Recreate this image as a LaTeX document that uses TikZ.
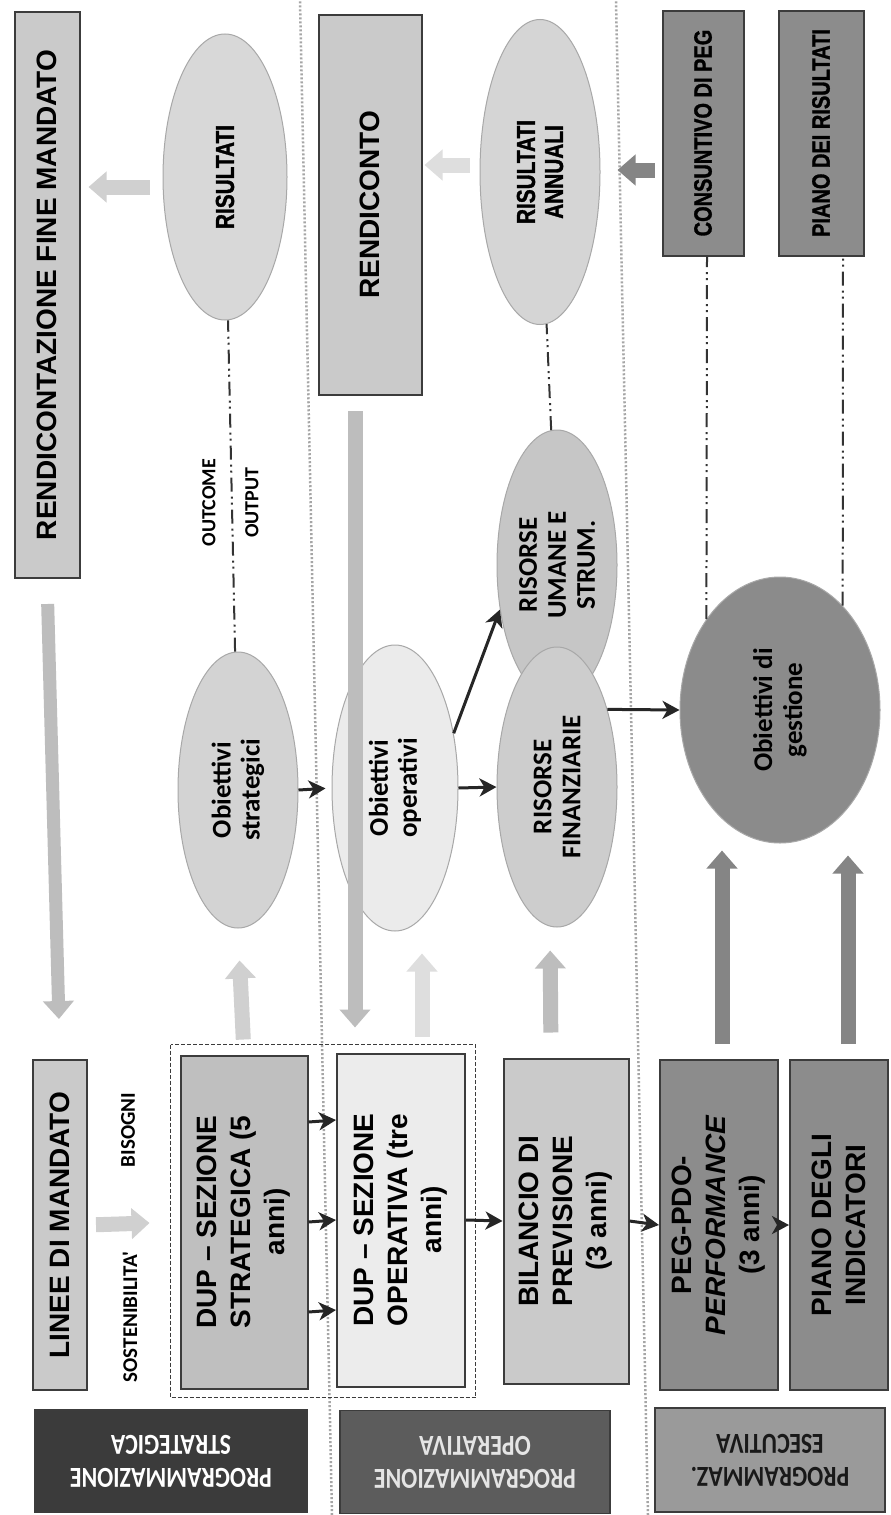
\documentclass[tikz,border=0pt]{standalone}
\usepackage{fontspec}
\setmainfont{Liberation Sans}
\newfontfamily\calfont{Carlito}
\newfontfamily\narrowbold[FakeStretch=0.8,FakeBold=1.2]{Liberation Sans Bold}
\newfontfamily\labfont[FakeStretch=0.82]{Carlito Bold}
\usetikzlibrary{arrows.meta,shapes.geometric}

\definecolor{boxline}{HTML}{3C3C3C}
\definecolor{boxgray}{HTML}{CACACA}
\definecolor{dupDark}{HTML}{BFBFBF}
\definecolor{dupLight}{HTML}{ECECEC}
\definecolor{darkbox}{HTML}{8C8C8C}
\definecolor{labStrat}{HTML}{3B3B3B}
\definecolor{labOper}{HTML}{5C5C5C}
\definecolor{labEsec}{HTML}{9A9A9A}
\definecolor{ovalline}{HTML}{A8A8A8}
\definecolor{ovStrat}{HTML}{D3D3D3}
\definecolor{ovRis}{HTML}{D8D8D8}
\definecolor{ovOper}{HTML}{EBEBEB}
\definecolor{ovFin}{HTML}{CDCDCD}
\definecolor{ovUmane}{HTML}{C6C6C6}
\definecolor{ovAnn}{HTML}{D5D5D5}
\definecolor{ovGest}{HTML}{8B8B8B}
\definecolor{fatLight}{HTML}{D0D0D0}
\definecolor{fatMid}{HTML}{BDBDBD}
\definecolor{fatDark}{HTML}{858585}

\tikzset{
  plainbox/.style={draw=boxline, line width=2pt, fill=boxgray, align=center, inner sep=2pt,
    font=\fontsize{28}{34}\selectfont\bfseries},
  greybox/.style={plainbox, fill=darkbox},
  rowlabel/.style={draw=boxline, line width=1.5pt, rotate=90, align=center, inner sep=0pt,
    font=\labfont\fontsize{29}{33}\selectfont},
  oval/.style={ellipse, draw=ovalline, line width=1pt, inner sep=0pt, align=center,
    font=\calfont\fontsize{27}{29}\selectfont\bfseries},
  blk/.style={draw=black!85, line width=3pt, -{Stealth[length=17pt,width=18pt,inset=5pt]}},
  fat/.style={line width=15pt, -{Triangle[length=18pt,width=30pt]}},
  ddot/.style={draw=black!80, line width=2pt,
    dash pattern=on 14pt off 5pt on 2pt off 4pt on 2pt off 5pt},
  sepline/.style={draw=black!35, line width=2.5pt, dash pattern=on 2pt off 2pt},
}

\begin{document}
\begin{tikzpicture}[x=1pt,y=1pt]
  \useasboundingbox (0,0) rectangle (891,-1515);
  \fill[white] (0,0) rectangle (891,-1515);

  \begin{scope}[shift={(891,-1515)}, rotate=90, transform shape]

    % row separators
    \draw[sepline] (0,559) -- (1515,591);
    \draw[sepline] (0,243) -- (1515,275);

    % row labels
    \node[rowlabel, fill=labStrat, text=white, minimum width=272pt, minimum height=102pt] (labS) at (54,720) {PROGRAMMAZIONE\\STRATEGICA};
    \node[rowlabel, fill=labOper, text=black!10, minimum width=270pt, minimum height=103pt] (labO) at (53,416) {PROGRAMMAZIONE\\OPERATIVA};
    \node[rowlabel, fill=labEsec, text=black!90, minimum width=230pt, minimum height=104pt] (labE) at (55,121) {PROGRAMMAZ.\\ESECUTIVA};

    % boxes
    \node[plainbox, minimum width=330pt, minimum height=54pt] (linee) at (290,831) {LINEE DI MANDATO};
    \node[plainbox, minimum width=566pt, minimum height=65pt] (rendFM) at (1220,844) {RENDICONTAZIONE FINE MANDATO};
    \node[plainbox, fill=dupDark, minimum width=333pt, minimum height=127pt] (dupS) at (293,647) {DUP -- SEZIONE\\STRATEGICA (5\\anni)};
    \node[plainbox, fill=dupLight, minimum width=333pt, minimum height=128pt] (dupO) at (295,490) {DUP -- SEZIONE\\OPERATIVA (tre\\anni)};
    \node[draw=boxline, line width=1.5pt, dash pattern=on 4pt off 2pt, minimum width=353pt, minimum height=305pt] (dupFrame) at (294,568) {};
    \node[plainbox, minimum width=325pt, minimum height=125pt] (bil) at (294,325) {BILANCIO DI\\PREVISIONE\\(3 anni)};
    \node[greybox, minimum width=330pt, minimum height=118pt] (peg) at (290,172) {PEG-PDO-\\\textit{PERFORMANCE}\\(3 anni)};
    \node[greybox, minimum width=330pt, minimum height=98pt] (pind) at (290,52) {PIANO DEGLI\\INDICATORI};
    \node[plainbox, minimum width=380pt, minimum height=103pt] (rend) at (1310,521) {RENDICONTO};
    \node[greybox, font=\narrowbold\fontsize{25}{30}\selectfont, minimum width=245pt, minimum height=81pt] (cons) at (1382,188) {CONSUNTIVO DI PEG};
    \node[greybox, font=\narrowbold\fontsize{25}{30}\selectfont, minimum width=245pt, minimum height=85pt] (pris) at (1382,70) {PIANO DEI RISULTATI};

    % ellipses
    \node[oval, fill=ovStrat, minimum width=276pt, minimum height=120pt] (obS) at (725,653) {Obiettivi\\strategici};
    \node[oval, fill=ovRis, font=\narrowbold\fontsize{26}{28}\selectfont, minimum width=286pt, minimum height=124pt] (ris) at (1338,666) {RISULTATI};
    \node[oval, fill=ovOper, minimum width=286pt, minimum height=126pt] (obO) at (727,496) {Obiettivi\\operativi};
    \node[oval, fill=ovUmane, minimum width=270pt, minimum height=120pt] (risU) at (950,334) {RISORSE\\UMANE E\\STRUM.};
    \node[oval, fill=ovFin, minimum width=280pt, minimum height=120pt] (risF) at (728,334) {RISORSE\\FINANZIARIE};
    \node[oval, fill=ovAnn, font=\narrowbold\fontsize{26}{28}\selectfont, minimum width=305pt, minimum height=120pt] (risA) at (1343,351) {RISULTATI\\ANNUALI};
    \node[oval, fill=ovGest, font=\calfont\fontsize{27}{30}\selectfont\bfseries, minimum width=266pt, minimum height=200pt] (obG) at (805,111) {Obiettivi di\\gestione};

    % free texts
    \node[font=\calfont\fontsize{21}{24}\selectfont\bfseries] (sost) at (198,761) {SOSTENIBILITA'};
    \node[font=\calfont\fontsize{21}{24}\selectfont\bfseries] (bis) at (385,763) {BISOGNI};

    % block arrows
    \draw[fat, draw=fatLight, shorten <=8pt, shorten >=30pt] (linee.south) -- (dupS.north);
    \draw[fat, draw=fatMid, line width=13pt, shorten <=25pt, shorten >=40pt] (rendFM.west) -- (linee.east);
    \draw[fat, draw=fatLight, shorten <=15pt, shorten >=32pt] (dupS.east) -- (obS.west);
    \draw[fat, draw=fatLight!70!white, shorten <=16pt, shorten >=22pt] ([yshift=-21pt]dupO.east) -- ([yshift=-27pt]obO.west);
    \draw[fat, draw=fatMid, shorten <=15pt, shorten >=25pt] ([yshift=15pt]rend.west) -- ([yshift=46pt]dupO.east);
    \draw[fat, draw=fatMid, shorten <=25pt, shorten >=23pt] ([yshift=15pt]bil.east) -- ([yshift=7pt]risF.west);
    \draw[fat, draw=fatLight, shorten <=13pt, shorten >=8pt] ([xshift=-10pt]ris.north) -- ([xshift=108pt]rendFM.south);
    \draw[fat, draw=fatLight!70!white, shorten <=10pt, shorten >=2pt] ([xshift=7pt]risA.north) -- ([xshift=40pt]rend.south);
    \draw[fat, draw=fatDark, shorten <=7pt, shorten >=17pt] ([xshift=-37pt]cons.north) -- ([xshift=2pt]risA.south);
    \draw[fat, draw=fatDark, shorten <=15pt, shorten >=7pt] ([yshift=-3pt]peg.east) -- ([yshift=58pt]obG.west);
    \draw[fat, draw=fatDark, shorten <=15pt, shorten >=12pt] ([yshift=-9pt]pind.east) -- ([yshift=-68pt]obG.west);

    % black arrows
    \foreach \d in {-90pt,0pt,100pt}
      \draw[blk] ([xshift=\d]dupS.south) -- ([xshift=\d]dupO.north);
    \draw[blk] (dupO.south) -- (bil.north);
    \draw[blk] (bil.south) -- (peg.north);
    \draw[blk] (peg.south) -- (pind.north);
    \draw[blk, shorten >=6pt] (obS.south) -- (obO.north);
    \draw[blk] (obO.south) -- (risF.north);
    \draw[blk] (obO.-47) -- (risU.128);
    \draw[blk] (risF.-33) -- (obG.north);

    % dash-dot lines
    \draw[ddot] (obS) -- (ris)
      node[pos=.45, above=12pt, font=\calfont\fontsize{20}{22}\selectfont\bfseries] (outc) {OUTCOME}
      node[pos=.45, below=9pt, font=\calfont\fontsize{20}{22}\selectfont\bfseries] (outp) {OUTPUT};
    \draw[ddot] (risU) -- (risA);
    \draw[ddot] (obG.39) -- ([yshift=-4pt]cons.west);
    \draw[ddot] (obG.-31) -- ([yshift=-22pt]pris.west);

  \end{scope}
\end{tikzpicture}
\end{document}
